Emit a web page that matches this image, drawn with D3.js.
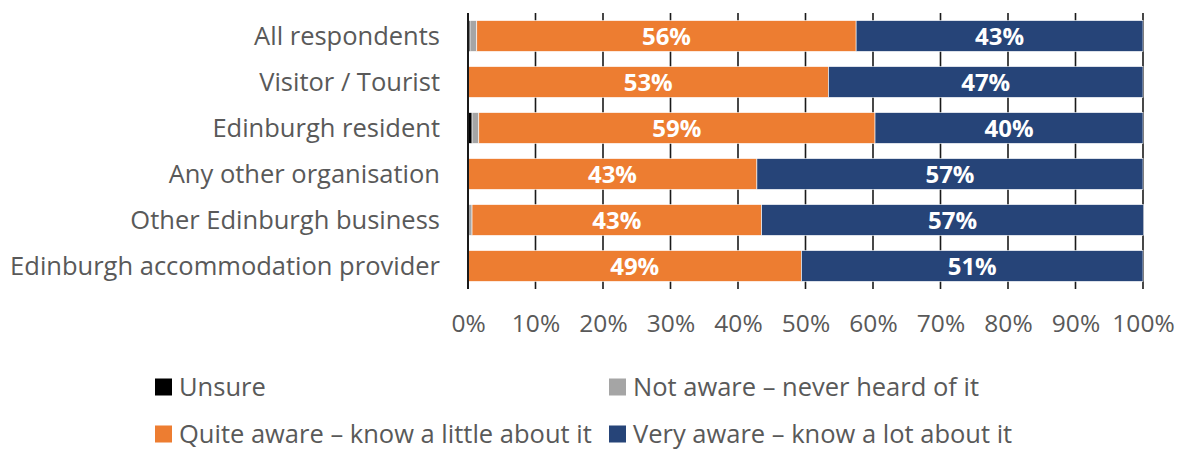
<!DOCTYPE html>
<html>
<head>
<meta charset="utf-8">
<script src="https://cdn.jsdelivr.net/npm/d3@7"></script>
<style>
  html, body { margin: 0; padding: 0; background: #fff; }
  svg { display: block; }
  text { font-family: "Open Sans", "Liberation Sans", sans-serif; }
</style>
</head>
<body>
<svg id="chart" width="1183" height="450"></svg>
<script>
// Respondent groups (top to bottom)
const categories = [
  "All respondents",
  "Visitor / Tourist",
  "Edinburgh resident",
  "Any other organisation",
  "Other Edinburgh business",
  "Edinburgh accommodation provider"
];

// Share of each group (%) by awareness level
const unsure     = [0.3, 0.0, 0.6, 0.0, 0.0, 0.0];
const notAware   = [1.0, 0.0, 1.0, 0.0, 0.6, 0.0];
const quiteAware = [56.2, 53.4, 58.7, 42.8, 42.9, 49.4];
const veryAware  = [42.5, 46.6, 39.7, 57.2, 56.6, 50.6];

const seriesNames = [
  "Unsure",
  "Not aware \u2013 never heard of it",
  "Quite aware \u2013 know a little about it",
  "Very aware \u2013 know a lot about it"
];
const seriesColors = ["#000000", "#a5a5a5", "#ed7d31", "#264478"];
const showLabels = [false, false, true, true];

const tickValues = [0, 10, 20, 30, 40, 50, 60, 70, 80, 90, 100];

const svg = d3.select("#chart");
const x = d3.scaleLinear().domain([0, 100]).range([468, 1143]);
const y = d3.scaleBand().domain(categories).range([13, 289]).paddingInner(0.33).paddingOuter(0.165);

const seriesData = [unsure, notAware, quiteAware, veryAware];
const rows = categories.map((c, i) => {
  const r = { cat: c };
  seriesNames.forEach((s, k) => r[s] = seriesData[k][i]);
  return r;
});
const stacked = d3.stack().keys(seriesNames)(rows);

// vertical gridlines
svg.append("g").selectAll("line").data(tickValues.slice(1)).join("line")
  .attr("x1", d => x(d)).attr("x2", d => x(d))
  .attr("y1", 13).attr("y2", 289)
  .attr("stroke", "#1a1a1a").attr("stroke-width", 1.6);

// stacked bars
const layers = svg.append("g").selectAll("g").data(stacked).join("g")
  .attr("fill", (d, i) => seriesColors[i]);
layers.selectAll("rect").data(d => d).join("rect")
  .attr("x", d => x(d[0]))
  .attr("width", d => Math.max(0, x(d[1]) - x(d[0])))
  .attr("y", d => y(d.data.cat))
  .attr("height", y.bandwidth())
  .attr("stroke", "#ffffff").attr("stroke-width", 0.6)
  .attr("stroke-opacity", d => (d[1] - d[0]) > 0 ? 1 : 0);

// value labels
stacked.forEach((layer, k) => {
  if (!showLabels[k]) return;
  svg.append("g").selectAll("text").data(layer).join("text")
    .attr("x", d => (x(d[0]) + x(d[1])) / 2)
    .attr("y", d => y(d.data.cat) + y.bandwidth() / 2)
    .attr("dy", "0.36em")
    .attr("text-anchor", "middle")
    .attr("fill", "#ffffff")
    .attr("font-weight", "bold")
    .attr("font-size", 24)
    .text(d => Math.round(d.data[layer.key]) + "%");
});

// category axis line
svg.append("line")
  .attr("x1", x(0)).attr("x2", x(0))
  .attr("y1", 13).attr("y2", 289)
  .attr("stroke", "#1a1a1a").attr("stroke-width", 2);

// category labels
svg.append("g").selectAll("text").data(categories).join("text")
  .attr("x", 440)
  .attr("y", d => y(d) + y.bandwidth() / 2)
  .attr("dy", "0.36em")
  .attr("text-anchor", "end")
  .attr("fill", "#595959")
  .attr("font-size", 25.5)
  .text(d => d);

// percentage axis
const xAxis = d3.axisBottom(x).tickValues(tickValues).tickSize(0).tickPadding(0)
  .tickFormat(d => d + "%");
const gx = svg.append("g").attr("transform", "translate(0,315)").call(xAxis);
gx.select(".domain").remove();
gx.selectAll("text").attr("fill", "#595959").attr("font-size", 24.5)
  .attr("font-family", "'Open Sans', sans-serif").attr("dy", "0.71em");

// legend
const legendPos = [[155, 387], [609, 387], [155, 434], [609, 434]];
const lg = svg.append("g").selectAll("g").data(seriesNames).join("g")
  .attr("transform", (d, i) => `translate(${legendPos[i][0]},${legendPos[i][1]})`);
lg.append("rect").attr("x", 0).attr("y", -8.5).attr("width", 17).attr("height", 17)
  .attr("fill", (d, i) => seriesColors[i]);
lg.append("text").attr("x", 24).attr("dy", "0.34em")
  .attr("fill", "#595959").attr("font-size", 25.5).text(d => d);
</script>
</body>
</html>
